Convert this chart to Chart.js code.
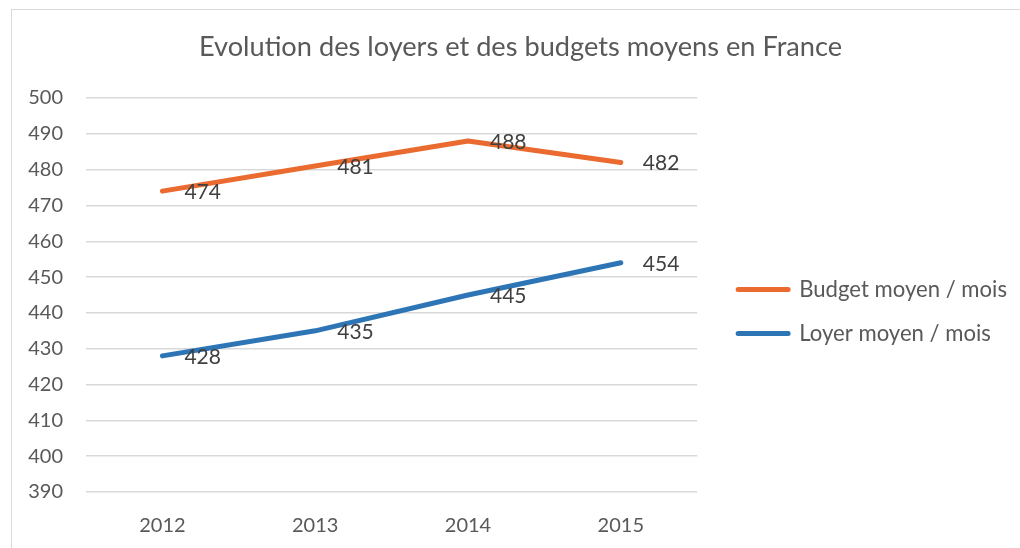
<!DOCTYPE html>
<html><head><meta charset="utf-8">
<script src="https://cdn.jsdelivr.net/npm/chart.js@4"></script>
<style>
html,body{margin:0;padding:0;background:#fff;overflow:hidden}
#wrap{position:relative;width:1020px;height:548px;overflow:hidden}
#frame{position:absolute;left:11px;top:9px;width:1100px;height:600px;border:1px solid #D9D9D9;pointer-events:none}
canvas{position:absolute;left:0;top:0}
</style></head><body>
<div id="wrap"><canvas id="c" width="1020" height="548"></canvas><div id="frame"></div></div>
<script>
const chartTitle = 'Evolution des loyers et des budgets moyens en France';
const categories = ['2012', '2013', '2014', '2015'];
const seriesNames = ['Budget moyen / mois', 'Loyer moyen / mois'];
const budgetValues = [474, 481, 488, 482];
const loyerValues = [428, 435, 445, 454];
const yMin = 390, yMax = 500, yStep = 10;

const FONT = 'Lato';

function build() {
  // layout computation (box sizes, not data)
  const padL = 24, padR = 3;
  const targetTextW = 208, legendBox = 50, legendPad = 22;
  const mctx = document.createElement('canvas').getContext('2d');
  mctx.font = '21px ' + FONT;
  const w21 = Math.max(...seriesNames.map(s => mctx.measureText(s).width));
  const legendFontSize = 21 * targetTextW / w21;
  const legendW = legendPad + legendBox + legendFontSize / 2 + targetTextW + 10;
  const gapW = 1020 - padR - 697 - legendW;

  const dataLabels = {
    id: 'dataLabels',
    afterDatasetsDraw(chart) {
      const ctx = chart.ctx;
      ctx.save();
      ctx.font = '21px ' + FONT;
      ctx.fillStyle = '#404040';
      ctx.textAlign = 'left';
      ctx.textBaseline = 'middle';
      chart.data.datasets.forEach((ds, i) => {
        const meta = chart.getDatasetMeta(i);
        meta.data.forEach((pt, j) => {
          ctx.fillText(String(ds.data[j]), pt.x + 22, pt.y + 1);
        });
      });
      ctx.restore();
    }
  };

  Chart.defaults.font.family = FONT;
  new Chart(document.getElementById('c'), {
    type: 'line',
    data: {
      labels: categories,
      datasets: [
        { label: seriesNames[0], data: budgetValues, borderColor: '#EA6A2F', backgroundColor: '#EA6A2F',
          borderWidth: 5, pointRadius: 0, pointHoverRadius: 0, tension: 0, fill: false,
          borderCapStyle: 'round', borderJoinStyle: 'round' },
        { label: seriesNames[1], data: loyerValues, borderColor: '#2E75B6', backgroundColor: '#2E75B6',
          borderWidth: 5, pointRadius: 0, pointHoverRadius: 0, tension: 0, fill: false,
          borderCapStyle: 'round', borderJoinStyle: 'round' }
      ]
    },
    options: {
      responsive: false,
      animation: false,
      devicePixelRatio: 1,
      layout: { padding: { left: padL, right: padR, top: 0, bottom: 0 } },
      plugins: {
        title: {
          display: true, text: chartTitle, color: '#595959',
          font: { size: 27.2, weight: 'normal', family: FONT },
          padding: { top: 30.7, bottom: 34.66 }
        },
        legend: {
          position: 'right', align: 'center', fullSize: false, maxWidth: 400,
          title: { display: true, text: '', font: { size: 10 }, padding: { top: 21, bottom: 0 } },
          labels: { boxWidth: legendBox, boxHeight: 0, padding: legendPad, color: '#595959',
                    font: { size: legendFontSize, family: FONT } }
        },
        tooltip: { enabled: false }
      },
      scales: {
        x: {
          offset: true,
          grid: { display: false },
          border: { display: false },
          ticks: { color: '#595959', font: { size: 20 }, padding: 14 },
          afterFit(s) { s.height = 56; }
        },
        y: {
          min: yMin, max: yMax,
          grid: { color: '#D9D9D9', lineWidth: 1.5, drawTicks: false },
          border: { display: false },
          ticks: { stepSize: yStep, color: '#595959', font: { size: 20 }, padding: 23 },
          afterFit(s) { s.width = 86 - padL; }
        },
        yGap: {
          position: 'right', display: true,
          grid: { display: false }, border: { display: false },
          ticks: { display: false },
          afterFit(s) { s.width = gapW; }
        }
      }
    },
    plugins: [dataLabels]
  });
}

if (document.fonts && document.fonts.load) {
  Promise.all([document.fonts.load('21px Lato'), document.fonts.load('27px Lato')]).then(build, build);
} else { build(); }
</script>
</body></html>
